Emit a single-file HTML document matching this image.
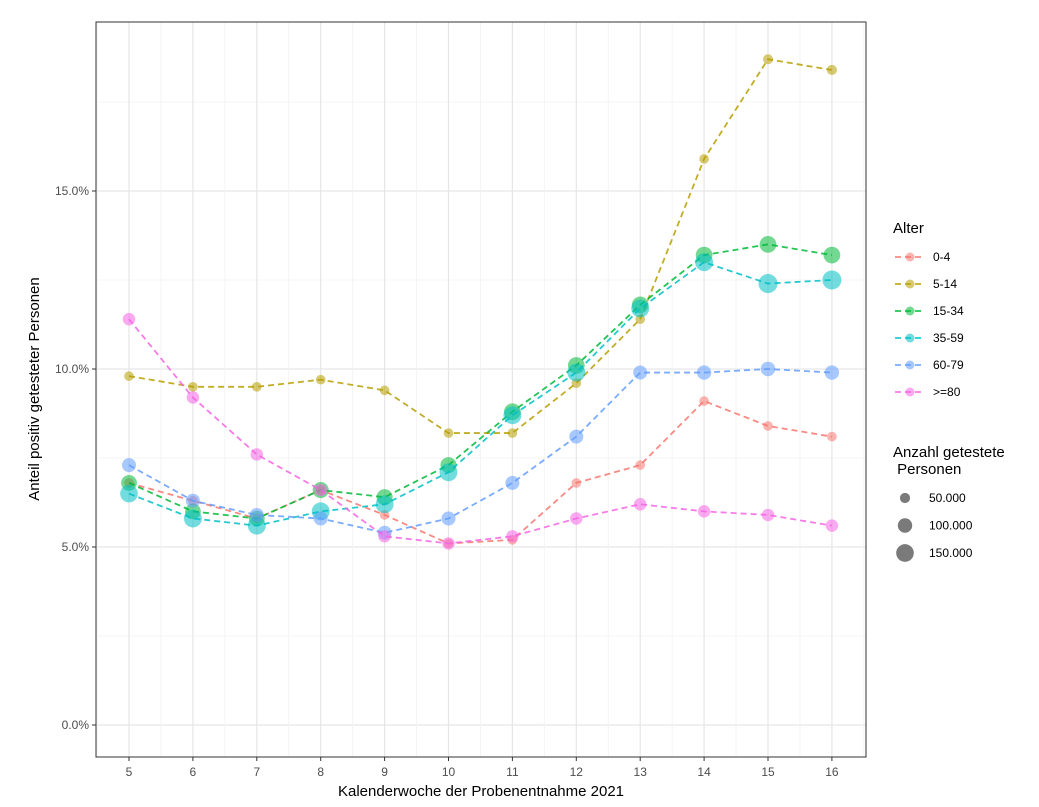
<!DOCTYPE html>
<html><head><meta charset="utf-8"><style>
body{margin:0;background:#fff;font-family:"Liberation Sans",sans-serif;}
svg text{font-family:"Liberation Sans",sans-serif;}
</style></head><body>
<svg id="chart" width="1039" height="802" xmlns="http://www.w3.org/2000/svg">
<rect width="1039" height="802" fill="#fff"/>
<g id="grid"></g>
<g id="series"></g>
<rect x="96" y="22" width="770" height="735" fill="none" stroke="#333" stroke-width="1"/>
<g id="axes"></g>
<text x="481" y="796" text-anchor="middle" font-size="15" fill="#000">Kalenderwoche der Probenentnahme 2021</text>
<text transform="translate(39,389) rotate(-90)" text-anchor="middle" font-size="15" fill="#000">Anteil positiv getesteter Personen</text>
<g id="legend"></g>
</svg>
<script>
const weeks=[5,6,7,8,9,10,11,12,13,14,15,16];
const groups=["0-4","5-14","15-34","35-59","60-79",">=80"];
const colors=["#F8766D","#B79F00","#00BA38","#00BFC4","#619CFF","#F564E3"];
const s0_4=[6.8,6.3,5.8,6.6,5.9,5.1,5.2,6.8,7.3,9.1,8.4,8.1];
const s5_14=[9.8,9.5,9.5,9.7,9.4,8.2,8.2,9.6,11.4,15.9,18.7,18.4];
const s15_34=[6.8,6.0,5.8,6.6,6.4,7.3,8.8,10.1,11.8,13.2,13.5,13.2];
const s35_59=[6.5,5.8,5.6,6.0,6.2,7.1,8.7,9.9,11.7,13.0,12.4,12.5];
const s60_79=[7.3,6.3,5.9,5.8,5.4,5.8,6.8,8.1,9.9,9.9,10.0,9.9];
const s80=[11.4,9.2,7.6,6.6,5.3,5.1,5.3,5.8,6.2,6.0,5.9,5.6];
const n0_4=[45,45,45,45,45,45,45,45,45,45,45,45];
const n5_14=[45,45,45,45,45,45,45,45,45,45,48,50];
const n15_34=[120,120,120,125,125,125,135,135,135,135,135,135];
const n35_59=[150,155,155,155,155,155,155,155,155,155,175,175];
const n60_79=[95,95,95,95,95,95,95,95,95,100,100,100];
const n80=[75,75,75,75,75,75,75,75,75,75,75,75];
const yTicks=[0,5,10,15];
const yTickLabels=["0.0%","5.0%","10.0%","15.0%"];
const sizeLegend=[50,100,150];
const sizeLegendLabels=["50.000","100.000","150.000"];
const values=[s0_4,s5_14,s15_34,s35_59,s60_79,s80];
const counts=[n0_4,n5_14,n15_34,n35_59,n60_79,n80];
const NS="http://www.w3.org/2000/svg";
const x=w=>129+(w-5)*63.9;
const y=v=>725-v*35.6;
const r=n=>Math.sqrt(n)*0.72;
function mk(tag,attrs,parent){const e=document.createElementNS(NS,tag);for(const k in attrs)e.setAttribute(k,attrs[k]);parent.appendChild(e);return e;}
const grid=document.getElementById('grid'),ser=document.getElementById('series'),axes=document.getElementById('axes'),leg=document.getElementById('legend');
mk('rect',{x:96,y:22,width:770,height:735,fill:'#fff'},grid);
for(let v=-2.5;v<=20;v+=2.5){const yy=y(v);if(yy<22||yy>757)continue;const major=v%5===0;
 const l=mk('line',{x1:96,x2:866,y1:yy,y2:yy,stroke:major?'#e6e6e6':'#f2f2f2','stroke-width':major?1.2:0.8},grid);
 
 }
for(let w=4.5;w<=16.5;w+=0.5){const xx=x(w);const major=Number.isInteger(w);
 const l=mk('line',{x1:xx,x2:xx,y1:22,y2:757,stroke:major?'#e6e6e6':'#f2f2f2','stroke-width':major?1.2:0.8},grid);
 
 }
yTicks.forEach((v,i)=>{const yy=y(v);
 const t=mk('line',{x1:92,x2:96,y1:yy,y2:yy,stroke:'#333'},axes);
 
 
 const tx=mk('text',{x:89,y:yy+4,'text-anchor':'end','font-size':12,fill:'#4d4d4d'},axes);tx.textContent=yTickLabels[i];
 
 });
weeks.forEach(w=>{const xx=x(w);
 const t=mk('line',{x1:xx,x2:xx,y1:757,y2:761,stroke:'#333'},axes);
 
 
 const tx=mk('text',{x:xx,y:776,'text-anchor':'middle','font-size':12,fill:'#4d4d4d'},axes);tx.textContent=w;
 
 });
values.forEach((vals,gi)=>{const g=mk('g',{},ser);
 
 
 const p=mk('polyline',{points:vals.map((v,i)=>x(weeks[i])+','+y(v)).join(' '),fill:'none',stroke:colors[gi],'stroke-width':1.8,'stroke-opacity':0.85,'stroke-dasharray':'6 4'},g);
 
 
 vals.forEach((v,i)=>{const c=mk('circle',{cx:x(weeks[i]),cy:y(v),r:r(counts[gi][i]),fill:colors[gi],'fill-opacity':0.55},g);
  
  });});
const lt=mk('text',{x:893,y:233,'font-size':15,fill:'#000'},leg);lt.textContent='Alter';


groups.forEach((gname,i)=>{const yy=257+i*27;const g=mk('g',{},leg);
 
 
 mk('line',{x1:895,x2:925,y1:yy,y2:yy,stroke:colors[i],'stroke-width':1.8,'stroke-opacity':0.85,'stroke-dasharray':'6 4'},g);
 mk('circle',{cx:910,cy:yy,r:4.5,fill:colors[i],'fill-opacity':0.55},g);
 const t=mk('text',{x:933,y:yy+4,'font-size':12,fill:'#000'},g);t.textContent=gname;});
const st=mk('text',{x:893,y:457,'font-size':15,fill:'#000'},leg);st.textContent='Anzahl getestete';


const st2=mk('text',{x:893,y:474,'font-size':15,fill:'#000'},leg);st2.textContent='\u00a0Personen';


sizeLegend.forEach((n,i)=>{const yy=498+i*27.5;const g=mk('g',{},leg);
 
 
 mk('circle',{cx:905,cy:yy,r:r(n),fill:'#333','fill-opacity':0.65},g);
 const t=mk('text',{x:929,y:yy+4,'font-size':12,fill:'#000'},g);t.textContent=sizeLegendLabels[i];});
</script>
</body></html>
